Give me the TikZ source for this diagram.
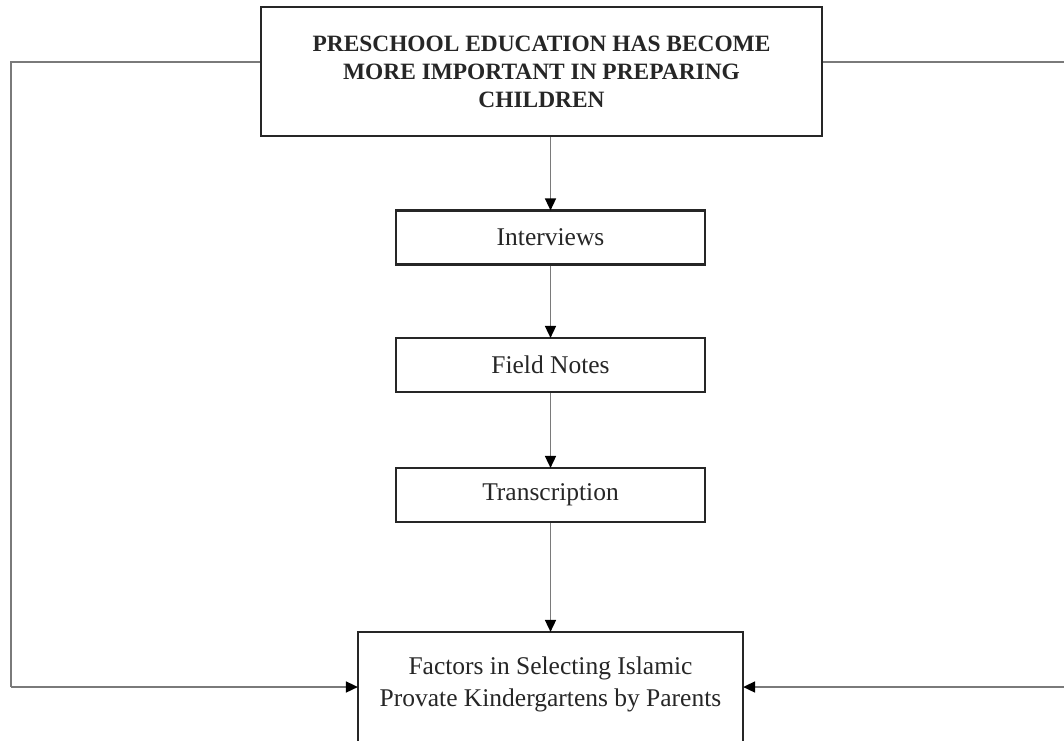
\documentclass[tikz,border=0pt]{standalone}
\usepackage{fontspec}
\setmainfont{Liberation Serif}
\usetikzlibrary{arrows.meta}
\definecolor{txt}{HTML}{262626}
\definecolor{conn}{HTML}{7A7A7A}
\tikzset{
  box/.style={draw=black!85, line width=2.2pt, fill=white, inner sep=0pt, text=txt, align=center},
  stepbox/.style={box, minimum width=309pt, minimum height=54pt, font=\fontsize{25.5}{32}\selectfont},
  conn/.style={draw=conn, line width=1.6pt},
  arr/.style={conn, -{Triangle[length=12pt,width=11pt,color=black]}, shorten >=-1pt}
}
\begin{document}
\begin{tikzpicture}[x=1pt,y=-1pt]
\useasboundingbox (0,0) rectangle (1064,740);
\clip (0,0) rectangle (1064,740);
\fill[white] (0,0) rectangle (1064,740);
% nodes
\node[box, minimum width=561pt, minimum height=129pt, font=\bfseries\fontsize{23.4}{28}\selectfont] (top) at (541.5,71.5)
  {PRESCHOOL EDUCATION HAS BECOME\\MORE IMPORTANT IN PREPARING\\CHILDREN};
\node[stepbox] (int) at (550.5,237.5) {Interviews};
\node[stepbox] (fn) at (550.5,365) {Field Notes};
\node[stepbox] (tr) at (550.5,495) {Transcription};
\node[box, minimum width=385pt, minimum height=124pt] (bot) at (550.5,694) {};
\node[text=txt, align=center, font=\fontsize{25.5}{32}\selectfont] (bottxt) at (550.5,684)
  {Factors in Selecting Islamic\\Provate Kindergartens by Parents};
% coordinates for the side loops
\coordinate (L1) at (11,62);
\coordinate (L2) at (11,687);
\coordinate (R1) at (1075,62);
\coordinate (R2) at (1075,687);
% vertical chain
\draw[arr] (top.south -| int.north) -- (int.north);
\draw[arr] (int) -- (fn);
\draw[arr] (fn) -- (tr);
\draw[arr] (tr) -- (bot);
% side loops
\draw[conn] (top.west |- L1) -- (L1) -- (L2);
\draw[arr] (L2) -- (L2 -| bot.west);
\draw[conn] (top.east |- R1) -- (R1);
\draw[arr] (R2) -- (R2 -| bot.east);
\end{tikzpicture}
\end{document}
